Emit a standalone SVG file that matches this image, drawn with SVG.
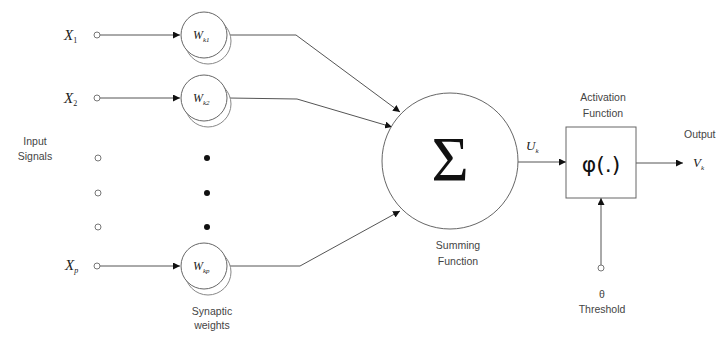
<svg xmlns="http://www.w3.org/2000/svg" width="716" height="341" viewBox="0 0 716 341">
  <defs>
    <marker id="arrow" viewBox="0 0 10 10" refX="10" refY="5" markerWidth="7" markerHeight="7" markerUnits="userSpaceOnUse" orient="auto">
      <path d="M0,0 L10,5 L0,10 z" fill="#111"/>
    </marker>
  </defs>
  <style>
    .wire { fill: none; stroke: #555; stroke-width: 1; }
    .port { fill: #fff; stroke: #777; stroke-width: 1; }
    .node { fill: #fff; stroke: #666; stroke-width: 1; }
    .shadow { fill: #fff; stroke: #888; stroke-width: 1; }
    .label { font-family: "Liberation Sans", Arial, sans-serif; font-size: 10.5px; fill: #444; text-anchor: middle; }
    .math { font-family: "Liberation Serif", "Times New Roman", serif; font-style: italic; fill: #222; }
    .dot { fill: #111; }
  </style>
  <rect width="716" height="341" fill="#fff"/>

  <!-- connectors -->
  <g id="connectors">
    <line class="wire" x1="100" y1="35" x2="180" y2="35" marker-end="url(#arrow)"/>
    <line class="wire" x1="100" y1="98" x2="180" y2="98" marker-end="url(#arrow)"/>
    <line class="wire" x1="100" y1="266" x2="180" y2="266" marker-end="url(#arrow)"/>
    <polyline class="wire" points="228,35 296,35 400,112" marker-end="url(#arrow)"/>
    <polyline class="wire" points="228,98 297,99 392,127" marker-end="url(#arrow)"/>
    <polyline class="wire" points="228,266 300,266 400,211" marker-end="url(#arrow)"/>
    <line class="wire" x1="518" y1="162" x2="566" y2="162" marker-end="url(#arrow)"/>
    <line class="wire" x1="636" y1="163" x2="683" y2="163" marker-end="url(#arrow)"/>
    <line class="wire" x1="601" y1="265" x2="601" y2="198" marker-end="url(#arrow)"/>
  </g>

  <!-- inputs -->
  <g id="input-x1">
    <circle class="port" cx="97" cy="35" r="3"/>
    <text class="math" x="64" y="40" font-size="15">X<tspan font-size="8" dy="3" font-style="normal">1</tspan></text>
  </g>
  <g id="input-x2">
    <circle class="port" cx="97" cy="98" r="3"/>
    <text class="math" x="64" y="103" font-size="15">X<tspan font-size="8" dy="3" font-style="normal">2</tspan></text>
  </g>
  <g id="input-blank">
    <circle class="port" cx="98" cy="158" r="3"/>
    <circle class="port" cx="98" cy="193" r="3"/>
    <circle class="port" cx="98" cy="227" r="3"/>
  </g>
  <g id="input-xp">
    <circle class="port" cx="97" cy="266" r="3"/>
    <text class="math" x="65" y="270" font-size="15">X<tspan font-size="8" dy="3">p</tspan></text>
  </g>
  <g id="input-label">
    <text class="label" x="35" y="145">Input</text>
    <text class="label" x="35" y="160">Signals</text>
  </g>

  <!-- synaptic weights -->
  <g id="weight-k1">
    <circle class="shadow" cx="208" cy="41" r="23"/>
    <circle class="node" cx="204" cy="35" r="23"/>
    <text class="math" x="193" y="39" font-size="12">W<tspan font-size="7" dy="3">k1</tspan></text>
  </g>
  <g id="weight-k2">
    <circle class="shadow" cx="208" cy="104" r="23"/>
    <circle class="node" cx="204" cy="98" r="23"/>
    <text class="math" x="193" y="102" font-size="12">W<tspan font-size="7" dy="3">k2</tspan></text>
  </g>
  <g id="weight-ellipsis">
    <circle class="dot" cx="207" cy="158" r="3"/>
    <circle class="dot" cx="207" cy="193" r="3"/>
    <circle class="dot" cx="207" cy="227" r="3"/>
  </g>
  <g id="weight-kp">
    <circle class="shadow" cx="208" cy="272" r="23"/>
    <circle class="node" cx="204" cy="266" r="23"/>
    <text class="math" x="193" y="270" font-size="12">W<tspan font-size="7" dy="3">kp</tspan></text>
  </g>
  <g id="weights-label">
    <text class="label" x="212" y="315">Synaptic</text>
    <text class="label" x="212" y="329">weights</text>
  </g>

  <!-- summing junction -->
  <g id="summing">
    <circle class="node" cx="450" cy="161" r="68"/>
    <text x="450" y="181" font-family="Liberation Serif, 'Times New Roman', serif" font-size="64" fill="#111" text-anchor="middle">Σ</text>
    <text class="label" x="458" y="249">Summing</text>
    <text class="label" x="458" y="265">Function</text>
    <text class="math" x="526" y="150" font-size="13">U<tspan font-size="7" dy="3">k</tspan></text>
  </g>

  <!-- activation -->
  <g id="activation">
    <rect class="node" x="566" y="127" width="70" height="71"/>
    <text x="601" y="172" font-family="'DejaVu Sans', 'Liberation Sans', sans-serif" font-size="22" fill="#111" text-anchor="middle">φ(.)</text>
    <text class="label" x="603" y="101">Activation</text>
    <text class="label" x="603" y="117">Function</text>
  </g>

  <!-- threshold -->
  <g id="threshold">
    <circle class="port" cx="601" cy="268" r="3"/>
    <text class="label" x="602" y="298">θ</text>
    <text class="label" x="602" y="313">Threshold</text>
  </g>

  <!-- output -->
  <g id="output">
    <text class="label" x="684" y="138" style="text-anchor: start">Output</text>
    <text class="math" x="693" y="167" font-size="13">V<tspan font-size="7" dy="3">k</tspan></text>
  </g>
</svg>
